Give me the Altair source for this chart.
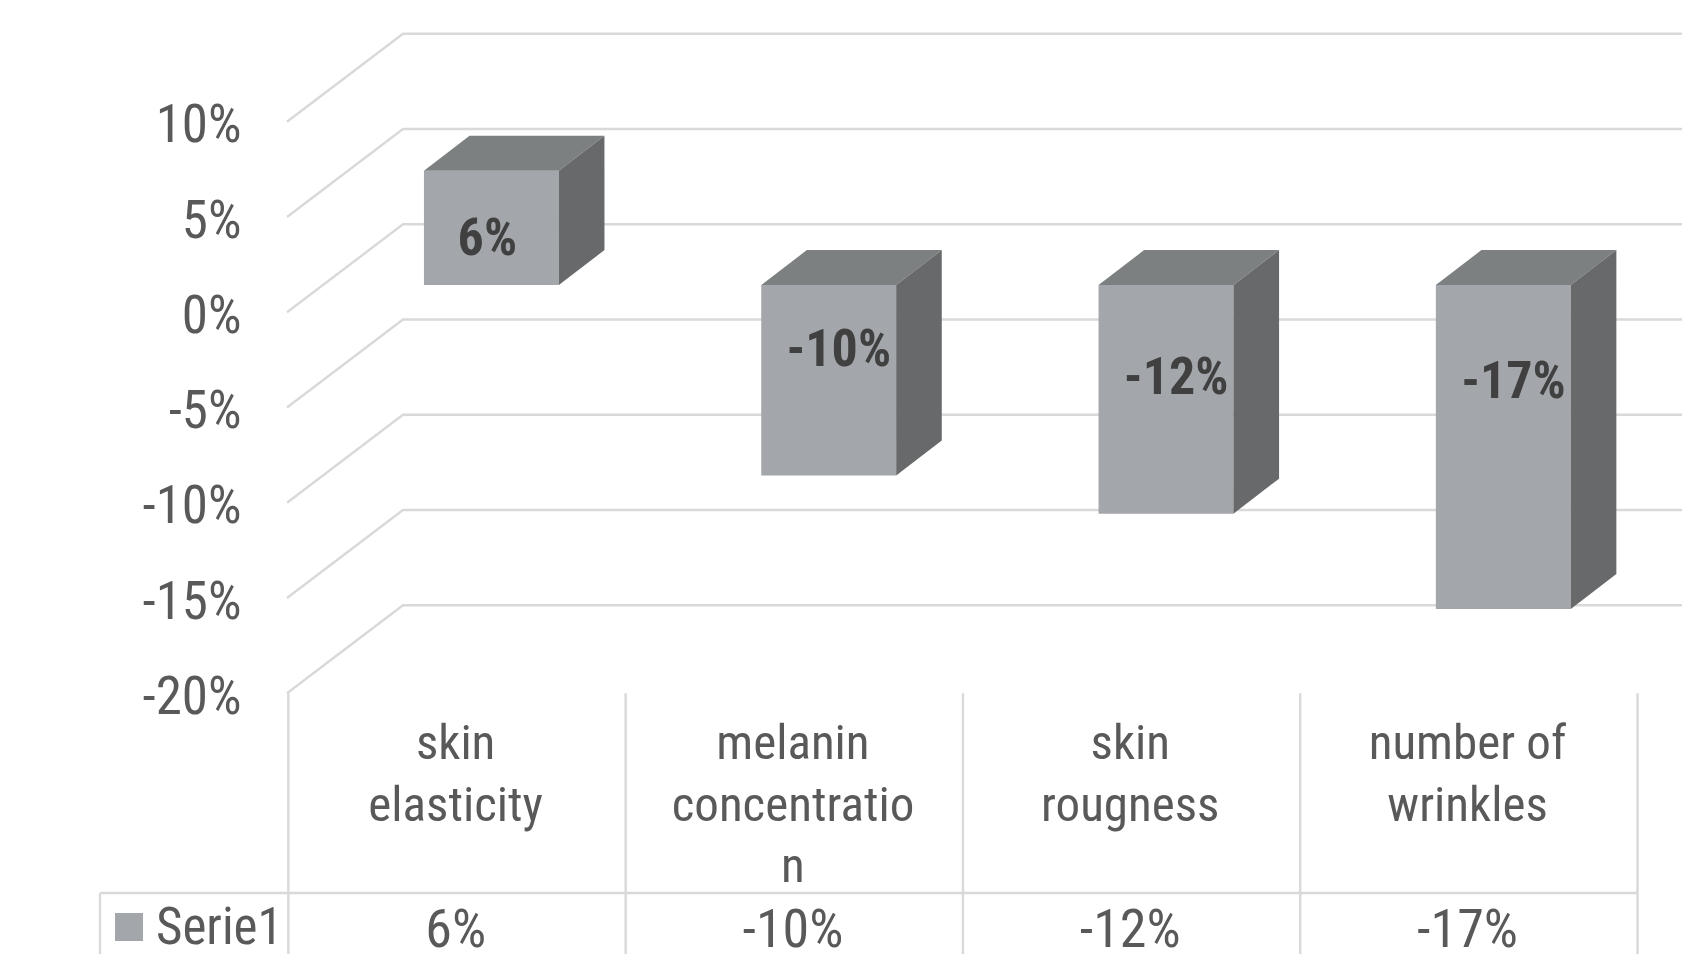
import altair as alt
import pandas as pd

# Chart content
categories = ["skin\nelasticity", "melanin\nconcentratio\nn", "skin\nrougness", "number of\nwrinkles"]
values = [6, -10, -12, -17]
label_heights = [2.4, -3.4, -4.9, -5.1]
label_shifts = [-0.012, 0.03, 0.03, 0.03]
y_ticks = [10, 5, 0, -5, -10, -15, -20]
series_name = "Serie1"

# Pixel layout of the canvas
LEFT, WIDTH, HEIGHT = 287, 1395, 954
CAT_W, PCT_H = 337.3, 19.05
ZERO_PX = 312.3
FONT = "Roboto Condensed"
TEXT, DARK = "#595959", "#404040"
GRID = "#d9d9d9"
FRONT, TOP, SIDE = "#a3a6aa", "#7d8080", "#67696b"

x_scale = alt.Scale(domain=[0, WIDTH / CAT_W], zero=False, nice=False)
y_scale = alt.Scale(domain=[(ZERO_PX - HEIGHT) / PCT_H, ZERO_PX / PCT_H], zero=False, nice=False)
y_axis = alt.Axis(
    values=y_ticks, labelExpr="datum.value + '%'", domain=False, ticks=False, grid=False,
    labelFont=FONT, labelFontSize=53, labelColor=TEXT, labelPadding=46, labelOffset=4)


def py(pixel):
    """Value-axis position of a canvas row."""
    return (ZERO_PX - pixel) / PCT_H


def px(pixel):
    """Category-axis position of a canvas column."""
    return (pixel - LEFT) / CAT_W


# Wall depth of the 3D frame, and the bar plane inside it
WALL_X, WALL_Y = 116 / CAT_W, 88 / PCT_H
BASE = 1.43
BAR_X, BAR_W = 0.406, 0.400
DEPTH_X, DEPTH_Y = 45.6 / CAT_W, 35 / PCT_H
X_END = WIDTH / CAT_W
TABLE_NUDGE = 0.004

X = alt.X("x:Q", scale=x_scale, axis=None)
Y = alt.Y("y:Q", scale=y_scale, title=None, axis=y_axis, stack=None)

# Floor-to-wall gridlines
grid_rows = []
for t in y_ticks:
    for k, (gx, gy) in enumerate([(0, t), (WALL_X, t + WALL_Y), (X_END, t + WALL_Y)]):
        grid_rows.append({"id": f"g{t}", "k": k, "x": gx, "y": gy})

# Data-table rules below the plot
table_top = -20
row_line = py(893)
table_rows = []
for i in range(len(categories) + 1):
    table_rows += [{"id": f"v{i}", "k": 0, "x": i + TABLE_NUDGE, "y": table_top},
                   {"id": f"v{i}", "k": 1, "x": i + TABLE_NUDGE, "y": py(HEIGHT)}]
table_rows += [{"id": "h", "k": 0, "x": px(100), "y": row_line},
               {"id": "h", "k": 1, "x": len(categories) + TABLE_NUDGE, "y": row_line},
               {"id": "l", "k": 0, "x": px(100), "y": row_line},
               {"id": "l", "k": 1, "x": px(100), "y": py(HEIGHT)}]

grid_layer = alt.Chart(pd.DataFrame(grid_rows)).mark_line(color=GRID, strokeWidth=2.4).encode(
    x=X, y=Y, detail="id:N", order="k:Q")
table_layer = alt.Chart(pd.DataFrame(table_rows)).mark_line(color=GRID, strokeWidth=2.4).encode(
    x=X, y=Y, detail="id:N", order="k:Q")

# Faces of each 3D column
front, side, top = [], [], []
for i, v in enumerate(values):
    x0 = i + BAR_X
    x1 = x0 + BAR_W
    hi = BASE + max(v, 0)
    lo = BASE + min(v, 0)
    front.append({"id": i, "x": x0, "x2": x1, "y": lo, "y2": hi})
    for sx, a, b in [(x1, lo, hi), (x1 + DEPTH_X, lo + DEPTH_Y, hi + DEPTH_Y)]:
        side.append({"id": i, "x": sx, "y": a, "y2": b})
    for tx, a, b in [(x0, hi, hi), (x0 + DEPTH_X, hi, hi + DEPTH_Y),
                     (x1, hi, hi + DEPTH_Y), (x1 + DEPTH_X, hi + DEPTH_Y, hi + DEPTH_Y)]:
        top.append({"id": i, "x": tx, "y": a, "y2": b})

front_layer = alt.Chart(pd.DataFrame(front)).mark_rect(color=FRONT).encode(
    x=X, x2="x2:Q", y=Y, y2="y2:Q")
side_layer = alt.Chart(pd.DataFrame(side)).mark_area(color=SIDE, orient="vertical").encode(
    x=X, y=Y, y2="y2:Q", detail="id:N")
top_layer = alt.Chart(pd.DataFrame(top)).mark_area(color=TOP, orient="vertical").encode(
    x=X, y=Y, y2="y2:Q", detail="id:N")

# Value labels on the columns
value_labels = pd.DataFrame({
    "x": [i + BAR_X + BAR_W / 2 + s for i, s in enumerate(label_shifts)],
    "y": [BASE + h for h in label_heights],
    "t": [f"{v}%" for v in values],
})
value_layer = alt.Chart(value_labels).mark_text(
    font=FONT, fontSize=52, fontWeight="bold", color=DARK, baseline="middle").encode(
    x=X, y=Y, text="t:N")

# Data table text
cat_table = pd.DataFrame({
    "x": [i + 0.5 for i in range(len(categories))],
    "y": [py(720)] * len(categories),
    "t": categories,
})
cat_layer = alt.Chart(cat_table).mark_text(
    font=FONT, fontSize=49, color=TEXT, baseline="top", lineBreak="\n", lineHeight=61.7).encode(
    x=X, y=Y, text="t:N")

row_table = pd.DataFrame({
    "x": [i + 0.5 for i in range(len(values))],
    "y": [py(931)] * len(values),
    "t": [f"{v}%" for v in values],
})
row_layer = alt.Chart(row_table).mark_text(
    font=FONT, fontSize=54, color=TEXT, baseline="middle").encode(x=X, y=Y, text="t:N")

series_layer = alt.Chart(pd.DataFrame({"x": [px(156)], "y": [py(929)], "t": [series_name]})).mark_text(
    font=FONT, fontSize=51, color=TEXT, baseline="middle", align="left").encode(x=X, y=Y, text="t:N")

swatch = alt.Chart(pd.DataFrame({"x": [px(115)], "x2": [px(143)], "y": [py(913)], "y2": [py(941)]})).mark_rect(
    color=FRONT).encode(x=X, x2="x2:Q", y=Y, y2="y2:Q")

chart = alt.layer(
    grid_layer, table_layer, front_layer, top_layer, side_layer,
    value_layer, cat_layer, row_layer, series_layer, swatch,
).properties(
    width=WIDTH, height=HEIGHT,
    padding={"left": LEFT, "top": 0, "right": 0, "bottom": 0},
    autosize=alt.AutoSizeParams(type="none"),
    background="white",
).configure_view(stroke=None)

chart.save("out.html", embed_options={"renderer": "svg", "actions": False})
